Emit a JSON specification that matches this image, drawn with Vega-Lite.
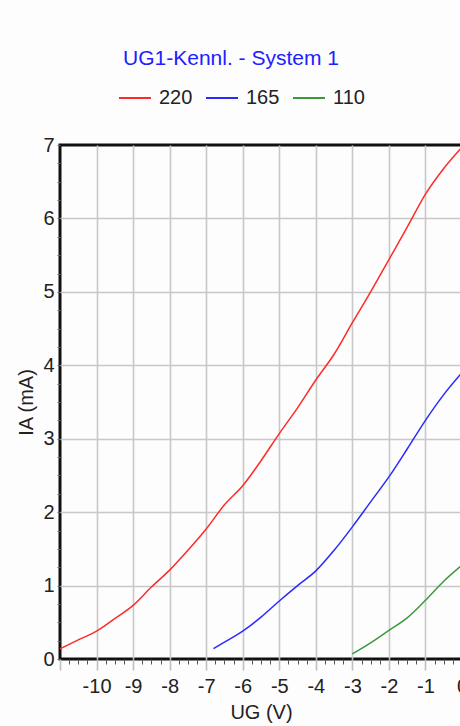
{
  "$schema": "https://vega.github.io/schema/vega-lite/v6.json",
  "width": 402,
  "height": 514,
  "autosize": "none",
  "padding": {"left": 60, "top": 145, "right": 0, "bottom": 67},
  "background": "#fdfdfd",
  "title": {
    "text": "UG1-Kennl. - System 1",
    "color": "#2020ff",
    "font": "Liberation Sans",
    "fontSize": 21,
    "fontWeight": "normal",
    "anchor": "middle",
    "frame": "group",
    "dx": -30,
    "offset": 12
  },
  "config": {
    "view": {"stroke": "#111111", "strokeWidth": 3},
    "axis": {
      "labelFont": "Liberation Sans",
      "labelFontSize": 20,
      "labelColor": "#222222",
      "titleFont": "Liberation Sans",
      "titleFontSize": 20,
      "titleFontWeight": "normal",
      "titleColor": "#222222",
      "domain": false,
      "gridColor": "#c8c8c8",
      "gridWidth": 1.6
    }
  },
  "data": {
    "values": [
      {"UG": -11, "IA": 0.14, "UA": "220"},
      {"UG": -10.5, "IA": 0.26, "UA": "220"},
      {"UG": -10, "IA": 0.38, "UA": "220"},
      {"UG": -9.5, "IA": 0.55, "UA": "220"},
      {"UG": -9, "IA": 0.73, "UA": "220"},
      {"UG": -8.5, "IA": 0.98, "UA": "220"},
      {"UG": -8, "IA": 1.21, "UA": "220"},
      {"UG": -7.5, "IA": 1.48, "UA": "220"},
      {"UG": -7, "IA": 1.77, "UA": "220"},
      {"UG": -6.5, "IA": 2.1, "UA": "220"},
      {"UG": -6, "IA": 2.36, "UA": "220"},
      {"UG": -5.5, "IA": 2.7, "UA": "220"},
      {"UG": -5, "IA": 3.07, "UA": "220"},
      {"UG": -4.5, "IA": 3.42, "UA": "220"},
      {"UG": -4, "IA": 3.8, "UA": "220"},
      {"UG": -3.5, "IA": 4.15, "UA": "220"},
      {"UG": -3, "IA": 4.58, "UA": "220"},
      {"UG": -2.5, "IA": 5.0, "UA": "220"},
      {"UG": -2, "IA": 5.44, "UA": "220"},
      {"UG": -1.5, "IA": 5.88, "UA": "220"},
      {"UG": -1, "IA": 6.33, "UA": "220"},
      {"UG": -0.5, "IA": 6.68, "UA": "220"},
      {"UG": 0, "IA": 6.97, "UA": "220"},
      {"UG": -6.8, "IA": 0.14, "UA": "165"},
      {"UG": -6.5, "IA": 0.23, "UA": "165"},
      {"UG": -6, "IA": 0.38, "UA": "165"},
      {"UG": -5.5, "IA": 0.57, "UA": "165"},
      {"UG": -5, "IA": 0.79, "UA": "165"},
      {"UG": -4.5, "IA": 1.0, "UA": "165"},
      {"UG": -4, "IA": 1.2, "UA": "165"},
      {"UG": -3.5, "IA": 1.48, "UA": "165"},
      {"UG": -3, "IA": 1.8, "UA": "165"},
      {"UG": -2.5, "IA": 2.14, "UA": "165"},
      {"UG": -2, "IA": 2.48, "UA": "165"},
      {"UG": -1.5, "IA": 2.86, "UA": "165"},
      {"UG": -1, "IA": 3.25, "UA": "165"},
      {"UG": -0.5, "IA": 3.6, "UA": "165"},
      {"UG": 0, "IA": 3.9, "UA": "165"},
      {"UG": -3, "IA": 0.07, "UA": "110"},
      {"UG": -2.5, "IA": 0.22, "UA": "110"},
      {"UG": -2, "IA": 0.39, "UA": "110"},
      {"UG": -1.5, "IA": 0.56, "UA": "110"},
      {"UG": -1, "IA": 0.8, "UA": "110"},
      {"UG": -0.5, "IA": 1.06, "UA": "110"},
      {"UG": 0, "IA": 1.28, "UA": "110"}
    ]
  },
  "mark": {"type": "line", "strokeWidth": 1.5, "clip": true, "interpolate": "monotone"},
  "encoding": {
    "x": {
      "field": "UG",
      "type": "quantitative",
      "scale": {"domain": [-11, 0], "nice": false, "zero": false},
      "axis": {
        "title": "UG (V)",
        "titlePadding": 6,
        "values": [-11, -10.75, -10.5, -10.25, -10, -9.75, -9.5, -9.25, -9, -8.75, -8.5, -8.25, -8, -7.75, -7.5, -7.25, -7, -6.75, -6.5, -6.25, -6, -5.75, -5.5, -5.25, -5, -4.75, -4.5, -4.25, -4, -3.75, -3.5, -3.25, -3, -2.75, -2.5, -2.25, -2, -1.75, -1.5, -1.25, -1, -0.75, -0.5, -0.25, 0],
        "labelExpr": "(datum.value % 1 != 0 || datum.value <= -11) ? '' : (datum.value < 0 ? '-' + abs(datum.value) : '0')",
        "labelFlush": false,
        "labelOverlap": false,
        "labelPadding": 6,
        "tickSize": {"condition": {"test": "datum.value % 1 == 0", "value": 11}, "value": 5},
        "tickColor": {"condition": {"test": "datum.value % 1 == 0", "value": "#c0c0c0"}, "value": "#555555"},
        "tickWidth": {"condition": {"test": "datum.value % 1 == 0", "value": 1.6}, "value": 1},
        "gridOpacity": {"condition": {"test": "datum.value % 1 == 0 && datum.value > -11 && datum.value < 0", "value": 1}, "value": 0}
      }
    },
    "y": {
      "field": "IA",
      "type": "quantitative",
      "scale": {"domain": [0, 7], "nice": false},
      "axis": {
        "title": "IA (mA)",
        "titlePadding": 6,
        "values": [0, 0.25, 0.5, 0.75, 1, 1.25, 1.5, 1.75, 2, 2.25, 2.5, 2.75, 3, 3.25, 3.5, 3.75, 4, 4.25, 4.5, 4.75, 5, 5.25, 5.5, 5.75, 6, 6.25, 6.5, 6.75, 7],
        "labelExpr": "datum.value % 1 == 0 ? '' + datum.value : ''",
        "labelFlush": false,
        "labelOverlap": false,
        "labelPadding": 3,
        "tickSize": 3,
        "tickColor": "#666666",
        "gridOpacity": {"condition": {"test": "datum.value % 1 == 0 && datum.value > 0 && datum.value < 7", "value": 1}, "value": 0}
      }
    },
    "color": {
      "field": "UA",
      "type": "nominal",
      "scale": {"domain": ["220", "165", "110"], "range": ["#ff2a2a", "#2a2aff", "#3a9a3a"]},
      "legend": {
        "title": null,
        "orient": "none",
        "direction": "horizontal",
        "legendX": 58,
        "legendY": -64,
        "symbolType": "stroke",
        "symbolSize": 1024,
        "symbolStrokeWidth": 2,
        "labelFont": "Liberation Sans",
        "labelFontSize": 20,
        "labelColor": "#222222",
        "labelOffset": 7,
        "columnPadding": 9,
        "encode": {
          "symbols": {"update": {"stroke": {"signal": "datum.value == '110' ? '#33dd33' : scale('color', datum.value)"}}}
        }
      }
    }
  }
}
